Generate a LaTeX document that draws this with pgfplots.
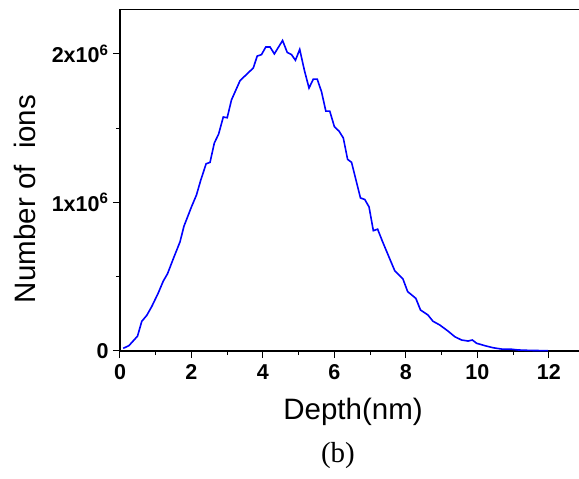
\documentclass[border=0pt]{standalone}
\usepackage{fontspec}
\setmainfont{Liberation Sans}
\newfontfamily\timesfont{Liberation Serif}
\usepackage{pgfplots}
\pgfplotsset{compat=1.18}
\begin{document}
\begin{tikzpicture}
\useasboundingbox (-120pt,-128pt) rectangle (459pt,351pt);
\begin{axis}[
  at={(0,0)}, anchor=south west,
  scale only axis, width=462pt, height=341.7pt,
  xmin=0, xmax=12.93, ymin=0, ymax=2.3,
  axis line style={line width=1.3pt},
  tick style={line width=1pt, black},
  tick align=outside,
  xtick pos=bottom, ytick pos=left,
  xtick={0,2,4,6,8,10,12},
  minor xtick={1,3,5,7,9,11},
  ytick={0,1,2},
  minor ytick={0.5,1.5},
  yticklabels={0,1x10\textsuperscript{6},2x10\textsuperscript{6}},
  major tick length=7pt, minor tick length=4pt,
  /pgf/number format/assume math mode=true,
  ticklabel style={font=\bfseries\fontsize{21.5}{21.5}\selectfont},
  xticklabel style={yshift=-3pt},
  yticklabel style={xshift=-1pt},
  xlabel={Depth(nm)},
  ylabel={Number of\ \ ions},
  label style={font=\fontsize{29.5}{29.5}\selectfont},
  xlabel style={yshift=-12pt, xshift=2pt},
  ylabel style={at={(axis description cs:-0.2056,0.445)}, anchor=center},
  clip=false,
]
\addplot[color={rgb,255:red,0;green,0;blue,255}, line width=1.6pt] coordinates {
(0.09,0.018) (0.25,0.036) (0.49,0.10) (0.61,0.20) (0.75,0.24) (0.89,0.30)
(1.07,0.39) (1.21,0.47) (1.33,0.52) (1.49,0.62) (1.68,0.735) (1.79,0.84)
(2.00,0.97) (2.14,1.05) (2.26,1.15) (2.41,1.26) (2.52,1.27) (2.64,1.40)
(2.76,1.46) (2.89,1.575) (3.00,1.57) (3.12,1.69) (3.36,1.82) (3.73,1.905)
(3.84,1.985) (3.96,1.995) (4.08,2.046) (4.20,2.046) (4.32,2.00) (4.55,2.09)
(4.68,2.01) (4.80,1.995) (4.91,1.957) (5.03,2.03) (5.16,1.89) (5.29,1.77)
(5.41,1.83) (5.52,1.83) (5.64,1.745) (5.76,1.615) (5.87,1.615) (6.00,1.51)
(6.13,1.48) (6.25,1.434) (6.37,1.29) (6.48,1.27) (6.73,1.03) (6.85,1.02)
(6.97,0.97) (7.09,0.81) (7.21,0.82) (7.35,0.735) (7.55,0.62) (7.69,0.54)
(7.92,0.484) (8.05,0.40) (8.28,0.354) (8.41,0.276) (8.62,0.242) (8.76,0.20)
(8.95,0.175) (9.18,0.134) (9.37,0.096) (9.56,0.074) (9.74,0.067) (9.86,0.074)
(9.98,0.052) (10.21,0.036) (10.44,0.022) (10.68,0.013) (10.91,0.013)
(11.14,0.007) (11.47,0.004) (11.98,0.002)
};
\node[font=\timesfont\fontsize{29}{29}\selectfont] at (rel axis cs:0.5,0) [yshift=-105pt, xshift=-13pt] {(b)};
\end{axis}
\end{tikzpicture}
\end{document}
